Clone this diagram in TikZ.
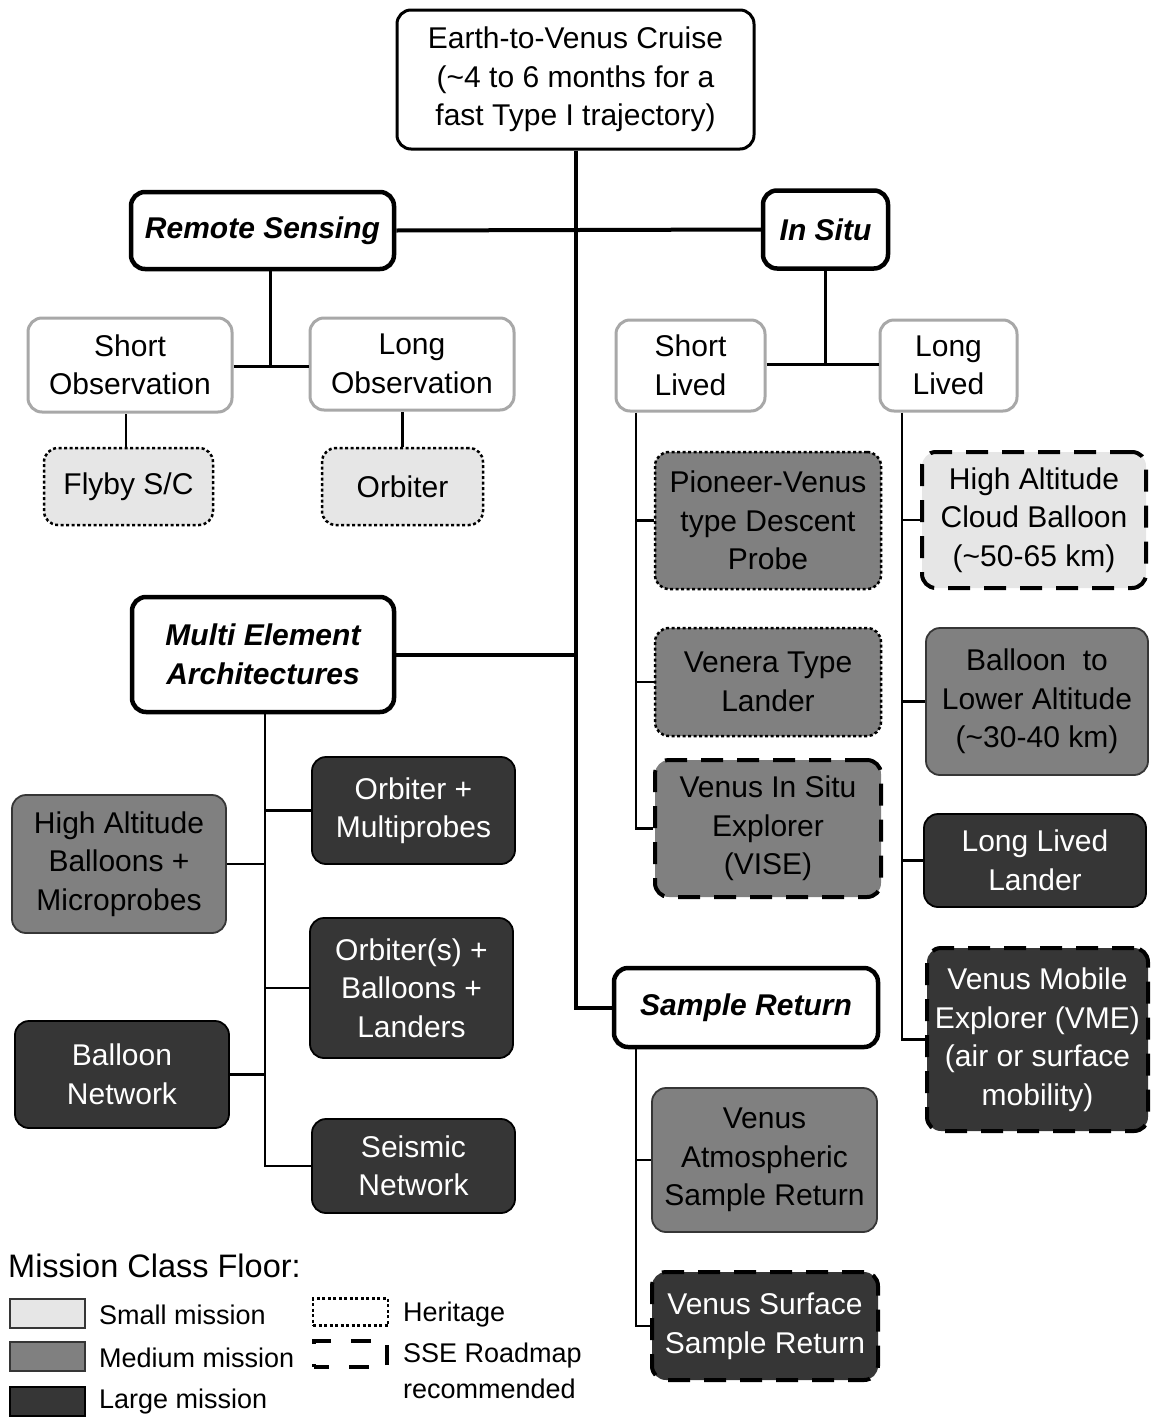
\documentclass[tikz,border=0pt]{standalone}
\usepackage{fontspec}
\setmainfont{Liberation Sans}
\definecolor{lightc}{HTML}{E6E6E6}
\definecolor{medc}{HTML}{808080}
\definecolor{darkc}{HTML}{363636}
\definecolor{catgray}{HTML}{A8A8A8}
\begin{document}
\begin{tikzpicture}[x=1pt,y=-1pt,
  base/.style={rounded corners=14pt, align=center, inner sep=2pt, font=\fontsize{30}{38.5}\selectfont},
  rootbox/.style={base, draw=black, line width=3pt, fill=white},
  titlebox/.style={base, draw=black, line width=4.5pt, fill=white, font=\fontsize{30}{39}\selectfont\bfseries\itshape},
  catbox/.style={base, draw=catgray, line width=3pt, fill=white},
  smallm/.style={base, fill=lightc, draw=darkc, line width=1.8pt},
  medm/.style={base, fill=medc, draw=darkc, line width=1.8pt},
  largem/.style={base, fill=darkc, draw=black, line width=1.8pt, text=white},
  heritage/.style={draw=black, dash pattern=on 3pt off 2.5pt, line width=2.5pt},
  roadmap/.style={draw=black, dash pattern=on 22pt off 14pt, line width=4pt},
  mainline/.style={line width=4pt},
  subline/.style={line width=3pt},
  thinline/.style={line width=2.2pt},
  legtext/.style={anchor=west, inner sep=0pt, font=\fontsize{27}{32}\selectfont},
]
\useasboundingbox (0,0) rectangle (1151,1419);

% main nodes
\node[rootbox, minimum width=357, minimum height=139] (root) at (575.5,79.5)
  {Earth-to-Venus Cruise\\(\textasciitilde4 to 6 months for a\\fast Type I trajectory)};
\node[titlebox, minimum width=263, minimum height=77] (rs) at (262.5,230.5) {Remote Sensing};
\node[titlebox, minimum width=125, minimum height=78] (insitu) at (825.5,229.5) {In Situ};
\node[titlebox, minimum width=262, minimum height=115] (mea) at (263,654.5) {Multi Element\\Architectures};
\node[titlebox, minimum width=264, minimum height=79] (sr) at (746,1007.5) {Sample Return};

% remote sensing
\node[catbox, minimum width=204, minimum height=94] (sobs) at (130,365) {Short\\Observation};
\node[catbox, minimum width=204, minimum height=92] (lobs) at (412,364) {Long\\Observation};
\node[smallm, heritage, minimum width=169, minimum height=77] (flyby) at (128.5,486.5) {Flyby S/C};
\node[smallm, heritage, minimum width=161, minimum height=77] (orb) at (402.5,486.5) {Orbiter};

% in situ
\node[catbox, minimum width=149, minimum height=91] (slived) at (690.5,365.5) {Short\\Lived};
\node[catbox, minimum width=137, minimum height=91] (llived) at (948.5,365.5) {Long\\Lived};
\node[medm, heritage, minimum width=226, minimum height=137] (pv) at (768,520.5) {Pioneer-Venus\\type Descent\\Probe};
\node[medm, heritage, minimum width=226, minimum height=108] (venera) at (768,682) {Venera Type\\Lander};
\node[medm, roadmap, minimum width=226, minimum height=137] (vise) at (768,828.5) {Venus In Situ\\Explorer\\(VISE)};
\node[smallm, roadmap, minimum width=224, minimum height=136] (hacb) at (1034,520) {High Altitude\\Cloud Balloon\\(\textasciitilde50-65 km)};
\node[medm, minimum width=222, minimum height=147] (blow) at (1037,701.5) {Balloon\ \ to\\Lower Altitude\\(\textasciitilde30-40 km)};
\node[largem, minimum width=222, minimum height=93] (lll) at (1035,860.5) {Long Lived\\Lander};
\node[largem, roadmap, minimum width=221, minimum height=183] (vme) at (1037.5,1039.5) {Venus Mobile\\Explorer (VME)\\(air or surface\\mobility)};

% multi element
\node[largem, minimum width=203, minimum height=107] (omp) at (413.5,810.5) {Orbiter +\\Multiprobes};
\node[largem, minimum width=203, minimum height=140] (obl) at (411.5,988) {Orbiter(s) +\\Balloons +\\Landers};
\node[largem, minimum width=203, minimum height=94] (seis) at (413.5,1166) {Seismic\\Network};
\node[medm, minimum width=214, minimum height=138] (habm) at (119,864) {High Altitude\\Balloons +\\Microprobes};
\node[largem, minimum width=214, minimum height=107] (bnet) at (122,1074.5) {Balloon\\Network};

% sample return
\node[medm, minimum width=225, minimum height=144] (vasr) at (764.5,1160) {Venus\\Atmospheric\\Sample Return};
\node[largem, roadmap, minimum width=226, minimum height=108] (vssr) at (765,1326) {Venus Surface\\Sample Return};

% junction coordinates
\coordinate (rsj) at (270,366);
\coordinate (isj) at (825.5,364);
\coordinate (slx) at (636,0);
\coordinate (llx) at (902,0);
\coordinate (mex) at (265,0);
\coordinate (srx) at (636,0);

% main connectors
\draw[mainline] (root.south) |- (sr.west);
\draw[mainline] (rs.east) -- (insitu.west);
\draw[mainline] (mea.east) -- (mea.east -| root.south);

% remote sensing connectors
\draw[subline] (rs.south -| rsj) -- (rsj);
\draw[subline] (sobs.east |- rsj) -- (lobs.west |- rsj);
\draw[thinline] (flyby.north -| 126,0) -- (sobs.south -| 126,0);
\draw[thinline] (orb.north) -- (orb.north |- lobs.south);

% in situ connectors
\draw[subline] (insitu.south) -- (isj);
\draw[subline] (slived.east |- isj) -- (llived.west |- isj);
\draw[thinline] (slived.south -| slx) |- (vise.west);
\draw[thinline] (pv.west) -- (pv.west -| slx);
\draw[thinline] (venera.west) -- (venera.west -| slx);
\draw[thinline] (llived.south -| llx) |- (vme.west);
\draw[thinline] (hacb.west) -- (hacb.west -| llx);
\draw[thinline] (blow.west) -- (blow.west -| llx);
\draw[thinline] (lll.west) -- (lll.west -| llx);

% multi element connectors
\draw[thinline] (mea.south -| mex) |- (seis.west);
\draw[thinline] (omp.west) -- (omp.west -| mex);
\draw[thinline] (obl.west) -- (obl.west -| mex);
\draw[thinline] (habm.east) -- (habm.east -| mex);
\draw[thinline] (bnet.east) -- (bnet.east -| mex);

% sample return connectors
\draw[thinline] (sr.south -| srx) |- (vssr.west);
\draw[thinline] (vasr.west) -- (vasr.west -| srx);

% legend
\node[anchor=west, inner sep=0pt, font=\fontsize{32.5}{36}\selectfont] (legtitle) at (8,1266) {Mission Class Floor:};
\node[draw=darkc, line width=2pt, fill=lightc, minimum width=75, minimum height=29, inner sep=0pt] (lsmall) at (47.5,1313) {};
\node[draw=darkc, line width=2pt, fill=medc, minimum width=75, minimum height=29, inner sep=0pt] (lmed) at (47.5,1356) {};
\node[draw=black, line width=2pt, fill=darkc, minimum width=75, minimum height=29, inner sep=0pt] (llarge) at (47.5,1401) {};
\node[legtext] (tsmall) at (99,1315) {Small mission};
\node[legtext] (tmed) at (99,1358) {Medium mission};
\node[legtext] (tlarge) at (99,1402) {Large mission};
\node[heritage, minimum width=75, minimum height=27, inner sep=0pt] (lher) at (350.5,1312) {};
\node[draw=black, line width=4pt, dash pattern=on 20pt off 20pt, dash phase=5pt, minimum width=73, minimum height=26, inner sep=0pt] (lroad) at (350.5,1354) {};
\node[legtext] (ther) at (403,1315) {Heritage};
\node[legtext, align=left, anchor=north west, font=\fontsize{27}{36}\selectfont] (troad) at (403,1343) {SSE Roadmap\\recommended};
\end{tikzpicture}
\end{document}
